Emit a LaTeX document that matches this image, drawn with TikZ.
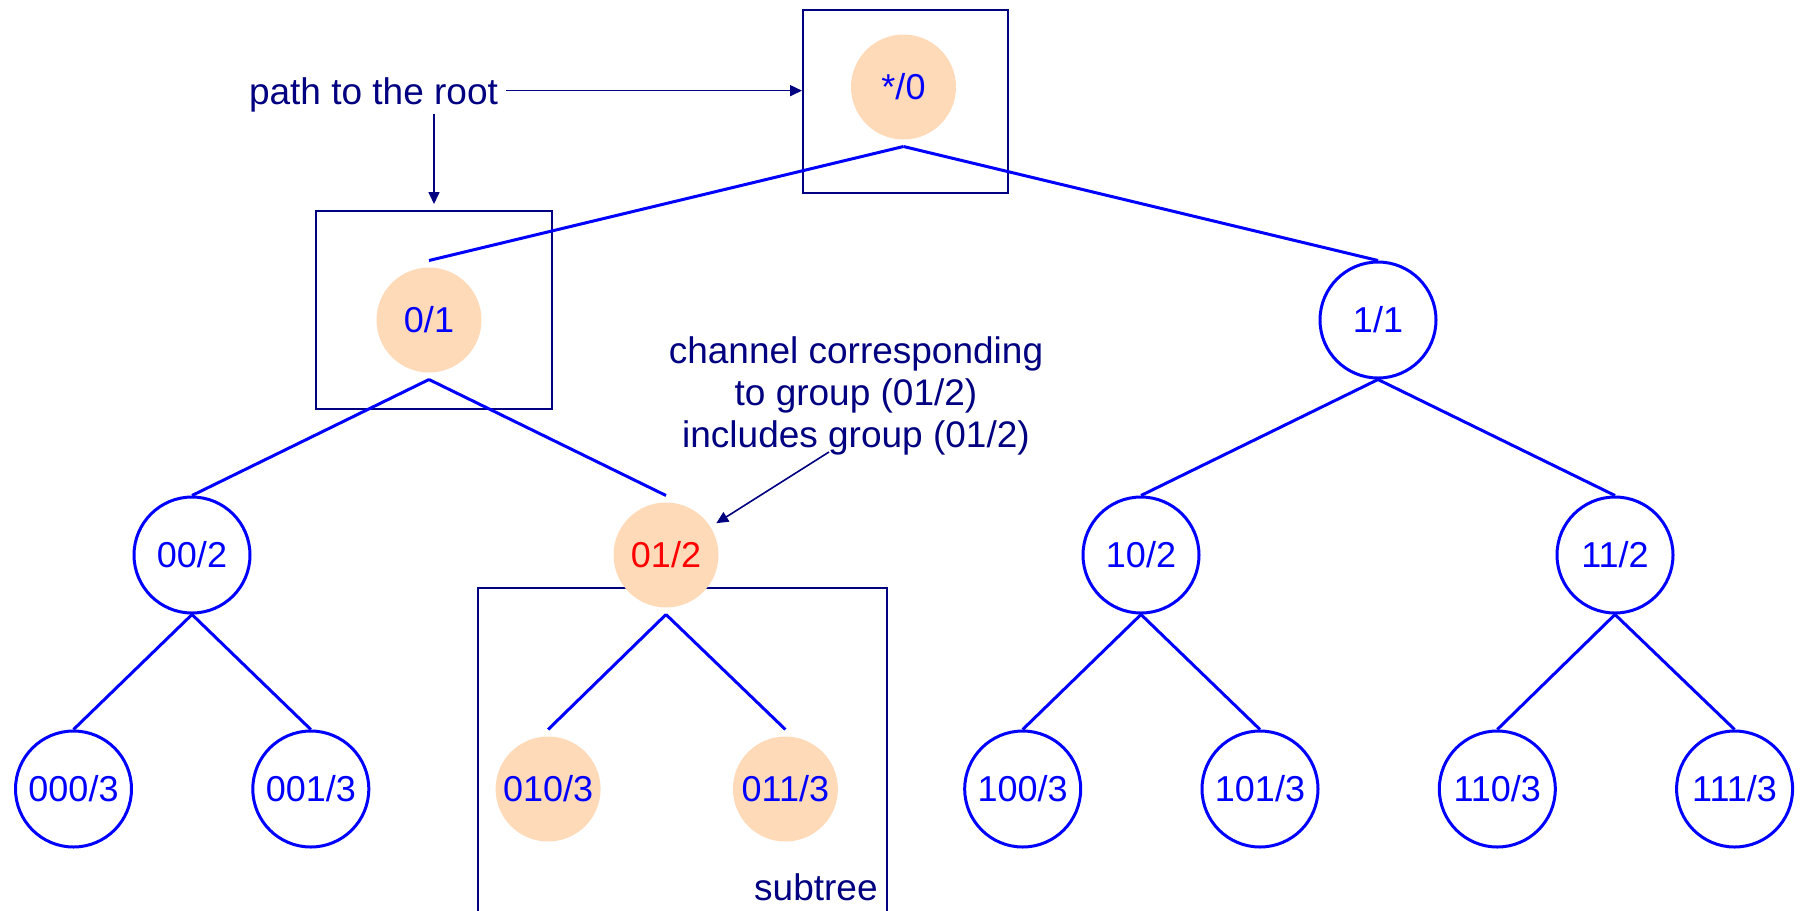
\documentclass[tikz,border=0pt]{standalone}
\usepackage{fontspec}
\setmainfont{Liberation Sans}
\usetikzlibrary{arrows.meta}
\definecolor{peach}{RGB}{255,218,185}
\definecolor{navy}{RGB}{0,0,128}
\definecolor{treeblue}{RGB}{0,0,255}

\begin{document}
\begin{tikzpicture}[x=0.5pt,y=-0.5pt,
  every node/.style={inner sep=0pt},
  tnode/.style={circle, draw=treeblue, line width=1.5pt, minimum size=58pt,
    text=treeblue, font=\fontsize{18}{21}\selectfont},
  hnode/.style={circle, fill=peach, minimum size=52.5pt, outer sep=3.5pt,
    text=treeblue, font=\fontsize{18}{21}\selectfont},
  edge/.style={treeblue, line width=1.5pt},
  frame/.style={draw=navy, line width=1pt, rectangle},
  note/.style={text=navy, font=\fontsize{18.5}{21}\selectfont},
  pointer/.style={navy, line width=0.8pt, -{Triangle[length=6pt,width=5.5pt]}}
]
\useasboundingbox (0,0) rectangle (1801,911);

% highlighting frames
\node[frame, minimum width=102.5pt, minimum height=91.5pt] (rootbox) at (905.5,101.5) {};
\node[frame, minimum width=118pt, minimum height=99pt] (n0box) at (434,310) {};
\node[frame, minimum width=204.5pt, minimum height=171pt] (subbox) at (682.5,759) {};

% tree nodes
\node[hnode] (r) at (903.5,87) {*/0};
\node[hnode] (n0) at (429,320) {0/1};
\node[tnode] (n1) at (1378,320) {1/1};
\node[tnode] (n00) at (192,555) {00/2};
\node[hnode, text=red] (n01) at (666,555) {01/2};
\node[tnode] (n10) at (1141,555) {10/2};
\node[tnode] (n11) at (1615,555) {11/2};
\node[tnode] (n000) at (73.5,789) {000/3};
\node[tnode] (n001) at (310.8,789) {001/3};
\node[hnode] (n010) at (548.1,789) {010/3};
\node[hnode] (n011) at (785.4,789) {011/3};
\node[tnode] (n100) at (1022.7,789) {100/3};
\node[tnode] (n101) at (1260,789) {101/3};
\node[tnode] (n110) at (1497.3,789) {110/3};
\node[tnode] (n111) at (1734.6,789) {111/3};

% tree edges
\foreach \p/\c in {r/n0, r/n1, n0/n00, n0/n01, n1/n10, n1/n11,
                   n00/n000, n00/n001, n01/n010, n01/n011,
                   n10/n100, n10/n101, n11/n110, n11/n111}
  \draw[edge] (\p.south) -- (\c.north);

% annotations
\node[note, anchor=base, inner xsep=4pt, inner ysep=1pt] (ptr) at (373.5,104) {path to the root};
\draw[pointer] ([yshift=1.9pt]ptr.east) -- ([yshift=1.9pt]ptr.east -| rootbox.west);
\draw[pointer, shorten >=3pt] (ptr.south -| n0box.north) -- (n0box.north);

\node[note, align=center] (chan) at (856,396)
  {channel corresponding\\to group (01/2)\\includes group (01/2)};
\coordinate (chanfoot) at (829,452);
\draw[pointer] (chanfoot) -- (n01);

\node[note, anchor=base east] (sublabel) at (878,900) {subtree};
\end{tikzpicture}
\end{document}
